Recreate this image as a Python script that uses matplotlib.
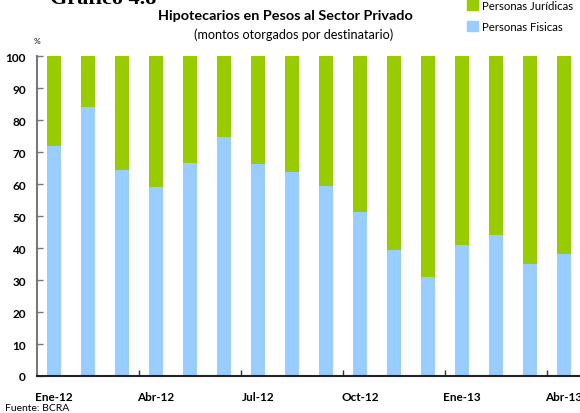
import matplotlib.pyplot as plt
import numpy as np
from matplotlib.patches import Patch

plt.rcParams['font.family'] = ['Lato', 'DejaVu Sans']

meses = ['Ene-12', 'Feb-12', 'Mar-12', 'Abr-12', 'May-12', 'Jun-12', 'Jul-12', 'Ago-12',
         'Sep-12', 'Oct-12', 'Nov-12', 'Dic-12', 'Ene-13', 'Feb-13', 'Mar-13', 'Abr-13']
fisicas = [72, 84, 64.3, 59.1, 66.5, 74.6, 66.2, 63.7,
           59.3, 51.2, 39.3, 30.9, 40.9, 44.0, 35.0, 38.1]
juridicas = [100 - v for v in fisicas]

verde = '#99CC00'
celeste = '#99CCFF'

fig = plt.figure(figsize=(5.8, 4.14), dpi=100)
ax = fig.add_axes([37 / 580, 1 - 377 / 414, 544 / 580, 320 / 414])

x = np.arange(len(meses))
ax.bar(x, fisicas, width=0.41, color=celeste, label='Personas Fisicas')
ax.bar(x, juridicas, width=0.41, bottom=fisicas, color=verde, label='Personas Jurídicas')

ax.set_xlim(-0.5, len(meses) - 0.5)
ax.set_ylim(0, 100)
ax.set_yticks(range(0, 101, 10))

# etiquetas cada tres meses, marcas entre barras
ax.set_xticks(x[::3])
ax.set_xticklabels([meses[i] for i in x[::3]], fontsize=8.5, fontweight='bold')
ax.set_xticks(np.arange(2.5, len(meses), 3), minor=True)
ax.tick_params(axis='x', which='major', length=0, pad=10.5)
ax.tick_params(axis='x', which='minor', direction='in', length=4, width=1, color='#333333')
ax.tick_params(axis='y', direction='in', length=4, width=1, color='#777777', pad=8,
               labelsize=8.5)
for lab in ax.get_yticklabels():
    lab.set_fontweight('bold')

for s in ['top', 'right']:
    ax.spines[s].set_visible(False)
ax.spines['left'].set_color('#777777')
ax.spines['left'].set_linewidth(1.5)
ax.spines['bottom'].set_color('#222222')
ax.spines['bottom'].set_linewidth(1.5)

fig.text(285 / 580, 1 - 16 / 414, 'Hipotecarios en Pesos al Sector Privado',
         ha='center', va='center', fontsize=10.4, fontweight='bold')
fig.text(294 / 580, 1 - 35 / 414, '(montos otorgados por destinatario)',
         ha='center', va='center', fontsize=9.1)
fig.text(50 / 580, 1 - 4 / 414, 'Gráfico 4.8', ha='left', va='baseline',
         fontsize=16, fontweight='bold', family=['Liberation Serif', 'DejaVu Serif'])
fig.text(34 / 580, 1 - 42 / 414, '%', ha='left', va='center', fontsize=6)
fig.text(5 / 580, 1 - 409 / 414, 'Fuente: BCRA', ha='left', va='center', fontsize=7.5)

handles = [Patch(color=verde, label='Personas Jurídicas'),
           Patch(color=celeste, label='Personas Fisicas')]
fig.legend(handles=handles, loc='upper left', bbox_to_anchor=(467 / 580, 1 - 1 / 414),
           frameon=False, fontsize=8.2, handlelength=1.0, handleheight=1.0,
           handletextpad=0.35, labelspacing=0.85, borderpad=0, borderaxespad=0)

fig.savefig('out.png', dpi=100)
